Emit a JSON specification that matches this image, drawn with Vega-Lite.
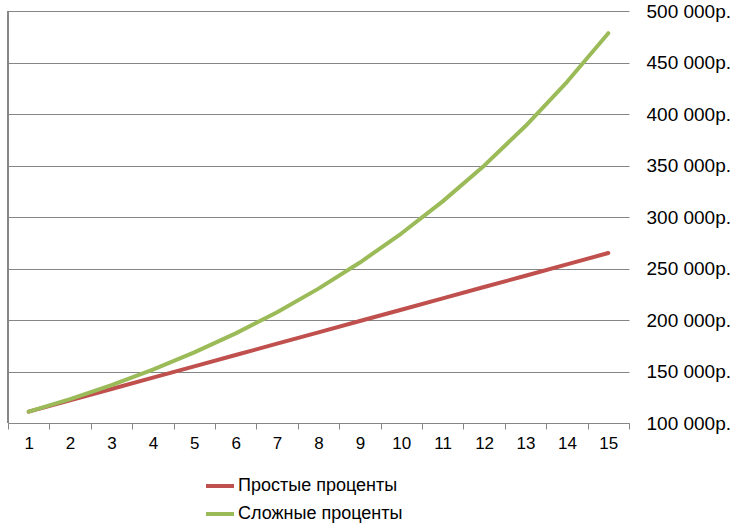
{
  "$schema": "https://vega.github.io/schema/vega-lite/v6.json",
  "width": 621,
  "height": 412,
  "autosize": {"type": "none"},
  "padding": {"left": 8, "top": 11, "right": 107, "bottom": 106},
  "background": "white",
  "config": {
    "view": {"stroke": null},
    "font": "Liberation Sans",
    "axis": {"labelFont": "Liberation Sans", "labelColor": "#000000"}
  },
  "data": {
    "values": [
      {"year": 1, "series": "Простые проценты", "value": 111000},
      {"year": 2, "series": "Простые проценты", "value": 122000},
      {"year": 3, "series": "Простые проценты", "value": 133000},
      {"year": 4, "series": "Простые проценты", "value": 144000},
      {"year": 5, "series": "Простые проценты", "value": 155000},
      {"year": 6, "series": "Простые проценты", "value": 166000},
      {"year": 7, "series": "Простые проценты", "value": 177000},
      {"year": 8, "series": "Простые проценты", "value": 188000},
      {"year": 9, "series": "Простые проценты", "value": 199000},
      {"year": 10, "series": "Простые проценты", "value": 210000},
      {"year": 11, "series": "Простые проценты", "value": 221000},
      {"year": 12, "series": "Простые проценты", "value": 232000},
      {"year": 13, "series": "Простые проценты", "value": 243000},
      {"year": 14, "series": "Простые проценты", "value": 254000},
      {"year": 15, "series": "Простые проценты", "value": 265000},
      {"year": 1, "series": "Сложные проценты", "value": 111000},
      {"year": 2, "series": "Сложные проценты", "value": 123210},
      {"year": 3, "series": "Сложные проценты", "value": 136763},
      {"year": 4, "series": "Сложные проценты", "value": 151807},
      {"year": 5, "series": "Сложные проценты", "value": 168506},
      {"year": 6, "series": "Сложные проценты", "value": 187041},
      {"year": 7, "series": "Сложные проценты", "value": 207616},
      {"year": 8, "series": "Сложные проценты", "value": 230454},
      {"year": 9, "series": "Сложные проценты", "value": 255804},
      {"year": 10, "series": "Сложные проценты", "value": 283942},
      {"year": 11, "series": "Сложные проценты", "value": 315176},
      {"year": 12, "series": "Сложные проценты", "value": 349845},
      {"year": 13, "series": "Сложные проценты", "value": 388328},
      {"year": 14, "series": "Сложные проценты", "value": 431044},
      {"year": 15, "series": "Сложные проценты", "value": 478459}
    ]
  },
  "resolve": {"axis": {"x": "independent"}},
  "layer": [
    {
      "mark": {"type": "point", "opacity": 0},
      "encoding": {
        "x": {
          "field": "year", "type": "quantitative",
          "scale": {"domain": [0.5, 15.5], "nice": false, "zero": false},
          "axis": {
            "orient": "bottom",
            "values": [0.5, 1.5, 2.5, 3.5, 4.5, 5.5, 6.5, 7.5, 8.5, 9.5, 10.5, 11.5, 12.5, 13.5, 14.5, 15.5],
            "labels": false, "domain": false, "grid": false, "ticks": true,
            "tickSize": 6, "tickColor": "#868686", "tickWidth": 1, "title": null
          }
        },
        "y": {"field": "value", "type": "quantitative"}
      }
    },
    {
      "mark": {"type": "rule", "color": "#868686", "strokeWidth": 1},
      "encoding": {"x": {"datum": 0.5, "type": "quantitative", "axis": null}}
    },
    {
      "mark": {"type": "line", "strokeWidth": 4, "strokeCap": "round", "strokeJoin": "round"},
      "encoding": {
        "x": {
          "field": "year", "type": "quantitative",
          "scale": {"domain": [0.5, 15.5], "nice": false, "zero": false},
          "axis": {
            "orient": "bottom",
            "values": [1, 2, 3, 4, 5, 6, 7, 8, 9, 10, 11, 12, 13, 14, 15],
            "format": "d", "ticks": false, "grid": false, "domain": true,
            "domainColor": "#868686", "domainWidth": 1,
            "labelFontSize": 17, "labelPadding": 12, "title": null
          }
        },
        "y": {
          "field": "value", "type": "quantitative",
          "scale": {"domain": [100000, 500000], "nice": false, "zero": false},
          "axis": {
            "orient": "right",
            "values": [100000, 150000, 200000, 250000, 300000, 350000, 400000, 450000, 500000],
            "labelExpr": "format(datum.value / 1000, 'd') + ' 000р.'",
            "domain": false, "ticks": false,
            "grid": true, "gridColor": "#868686", "gridWidth": 1,
            "labelFontSize": 19, "labelPadding": 17, "labelAlign": "left",
            "title": null
          }
        },
        "color": {
          "field": "series", "type": "nominal",
          "scale": {"domain": ["Простые проценты", "Сложные проценты"], "range": ["#C0504D", "#9BBB59"]},
          "legend": {
            "title": null,
            "orient": "none",
            "legendX": 196,
            "legendY": 459,
            "symbolType": "stroke",
            "symbolSize": 784,
            "symbolStrokeWidth": 4,
            "labelFontSize": 18,
            "labelColor": "#000000",
            "labelFont": "Liberation Sans",
            "labelLimit": 400,
            "rowPadding": 3,
            "labelOffset": 2
          }
        },
        "order": {"field": "year", "type": "quantitative"}
      }
    }
  ]
}
